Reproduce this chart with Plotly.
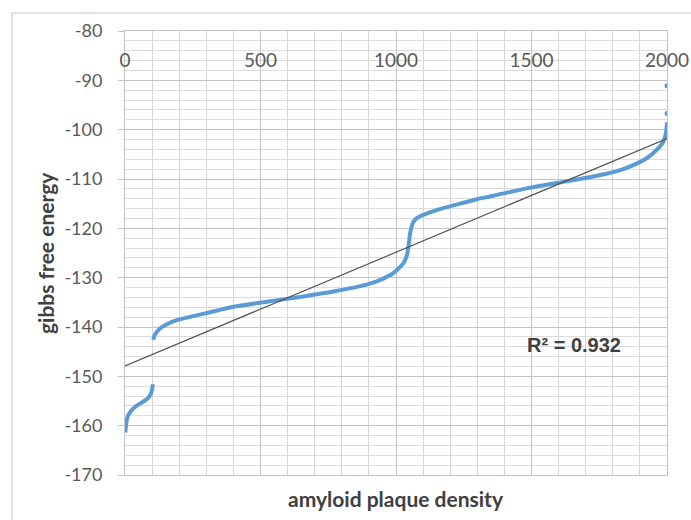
import plotly.graph_objects as go

# ---- data ----
seg1_x = [1, 4, 8, 15, 31, 50, 68, 85, 95, 100, 103]
seg1_y = [-161.4, -159.8, -158.5, -157.6, -156.5, -155.7, -155.1, -154.4, -153.6, -152.6, -151.6]

seg2_x = [104, 110, 129, 160, 191, 252, 314, 400, 523, 646, 769, 892, 941, 990, 1027,
          1040, 1046, 1052, 1058, 1064, 1080, 1113, 1175, 1236, 1298, 1359, 1482, 1605,
          1728, 1827, 1876, 1925, 1962, 1987, 1996, 1999, 2000]
seg2_y = [-142.6, -141.6, -140.3, -139.3, -138.6, -137.8, -137.0, -135.9, -134.9, -133.9,
          -132.8, -131.4, -130.5, -129.1, -127.1, -125.5, -123.7, -121.0, -119.6, -118.7,
          -117.8, -117.0, -115.9, -115.0, -114.1, -113.4, -111.9, -110.7, -109.5, -108.2,
          -107.2, -105.8, -104.1, -102.4, -100.7, -99.4, -98.5]

outlier_x = [2000, 2000]
outlier_y = [-96.7, -91.1]

trend_x = [0, 2000]
trend_y = [-147.9, -101.8]

x_tick_vals = [0, 500, 1000, 1500, 2000]
x_tick_text = ["0", "500", "1000", "1500", "2000"]
y_tick_vals = [-80, -90, -100, -110, -120, -130, -140, -150, -160, -170]
y_tick_text = ["-80", "-90", "-100", "-110", "-120", "-130", "-140", "-150", "-160", "-170"]

r2_text = "R² = 0.932"
x_title = "amyloid plaque density"
y_title = "gibbs free energy"

BLUE = "#5b9bd5"

fig = go.Figure()
fig.add_trace(go.Scatter(x=seg1_x + [None] + seg2_x, y=seg1_y + [None] + seg2_y,
                         mode="lines", line=dict(color=BLUE, width=4, shape="spline", smoothing=0.6),
                         connectgaps=False, showlegend=False, hoverinfo="x+y"))
fig.add_trace(go.Scatter(x=outlier_x, y=outlier_y, mode="markers",
                         marker=dict(color=BLUE, size=5), showlegend=False))
fig.add_trace(go.Scatter(x=trend_x, y=trend_y, mode="lines",
                         line=dict(color="#555555", width=1.2), showlegend=False))

L, R, T, B = 125, 24, 31, 45
W, H = 691, 520
pw, ph = W - L - R, H - T - B

def px_x(p):
    return (p - L) / pw

def px_y(p):
    return (H - B - p) / ph

fig.update_layout(
    width=W, height=H,
    margin=dict(l=L, r=R, t=T, b=B),
    paper_bgcolor="white", plot_bgcolor="white",
    font=dict(family="Lato", color="#595959", size=18),
    xaxis=dict(range=[0, 2000], side="top", tickvals=x_tick_vals, ticktext=x_tick_text,
               ticklabelposition="inside", ticklabeloverflow="allow", ticks="",
               ticklabelstandoff=24, automargin=False,
               showgrid=True, gridcolor="#c4c4c4", gridwidth=1,
               minor=dict(dtick=100, tick0=0, showgrid=True, gridcolor="#d6d6d6", gridwidth=1),
               showline=True, linecolor="#c4c4c4", linewidth=1, mirror=True,
               zeroline=False, tickfont=dict(size=19, family="Lato", color="#595959")),
    yaxis=dict(range=[-170, -80], tickvals=y_tick_vals, ticktext=y_tick_text,
               ticks="outside", ticklen=6, tickcolor="#c4c4c4", ticklabelstandoff=12,
               ticklabeloverflow="allow", automargin=False,
               showgrid=True, gridcolor="#c4c4c4", gridwidth=1,
               minor=dict(dtick=2, tick0=-80, showgrid=True, gridcolor="#dcdcdc", gridwidth=1),
               showline=True, linecolor="#c4c4c4", linewidth=1, mirror=True,
               zeroline=False, tickfont=dict(size=18, family="Lato", color="#595959")),
    shapes=[dict(type="rect", xref="paper", yref="paper",
                 x0=px_x(12), x1=px_x(720), y0=px_y(540), y1=px_y(13),
                 line=dict(color="#d9d9d9", width=1.5), fillcolor="rgba(0,0,0,0)", layer="below")],
    annotations=[
        dict(text=r2_text, xref="paper", yref="paper", x=px_x(574), y=px_y(345),
             showarrow=False, xanchor="center", yanchor="middle",
             font=dict(family="Liberation Sans", size=20, color="#404040", weight="bold")),
        dict(text=x_title, xref="paper", yref="paper", x=0.5, y=px_y(499),
             showarrow=False, xanchor="center", yanchor="middle",
             font=dict(family="Lato", size=21, color="#404040", weight="bold")),
        dict(text=y_title, xref="paper", yref="paper", x=px_x(45), y=0.5, textangle=-90,
             showarrow=False, xanchor="center", yanchor="middle",
             font=dict(family="Lato", size=21, color="#404040", weight="bold")),
    ],
)

fig.write_html("out.html", config={"displayModeBar": False},
               post_script="document.body.style.margin='0';document.body.style.overflow='hidden';")
